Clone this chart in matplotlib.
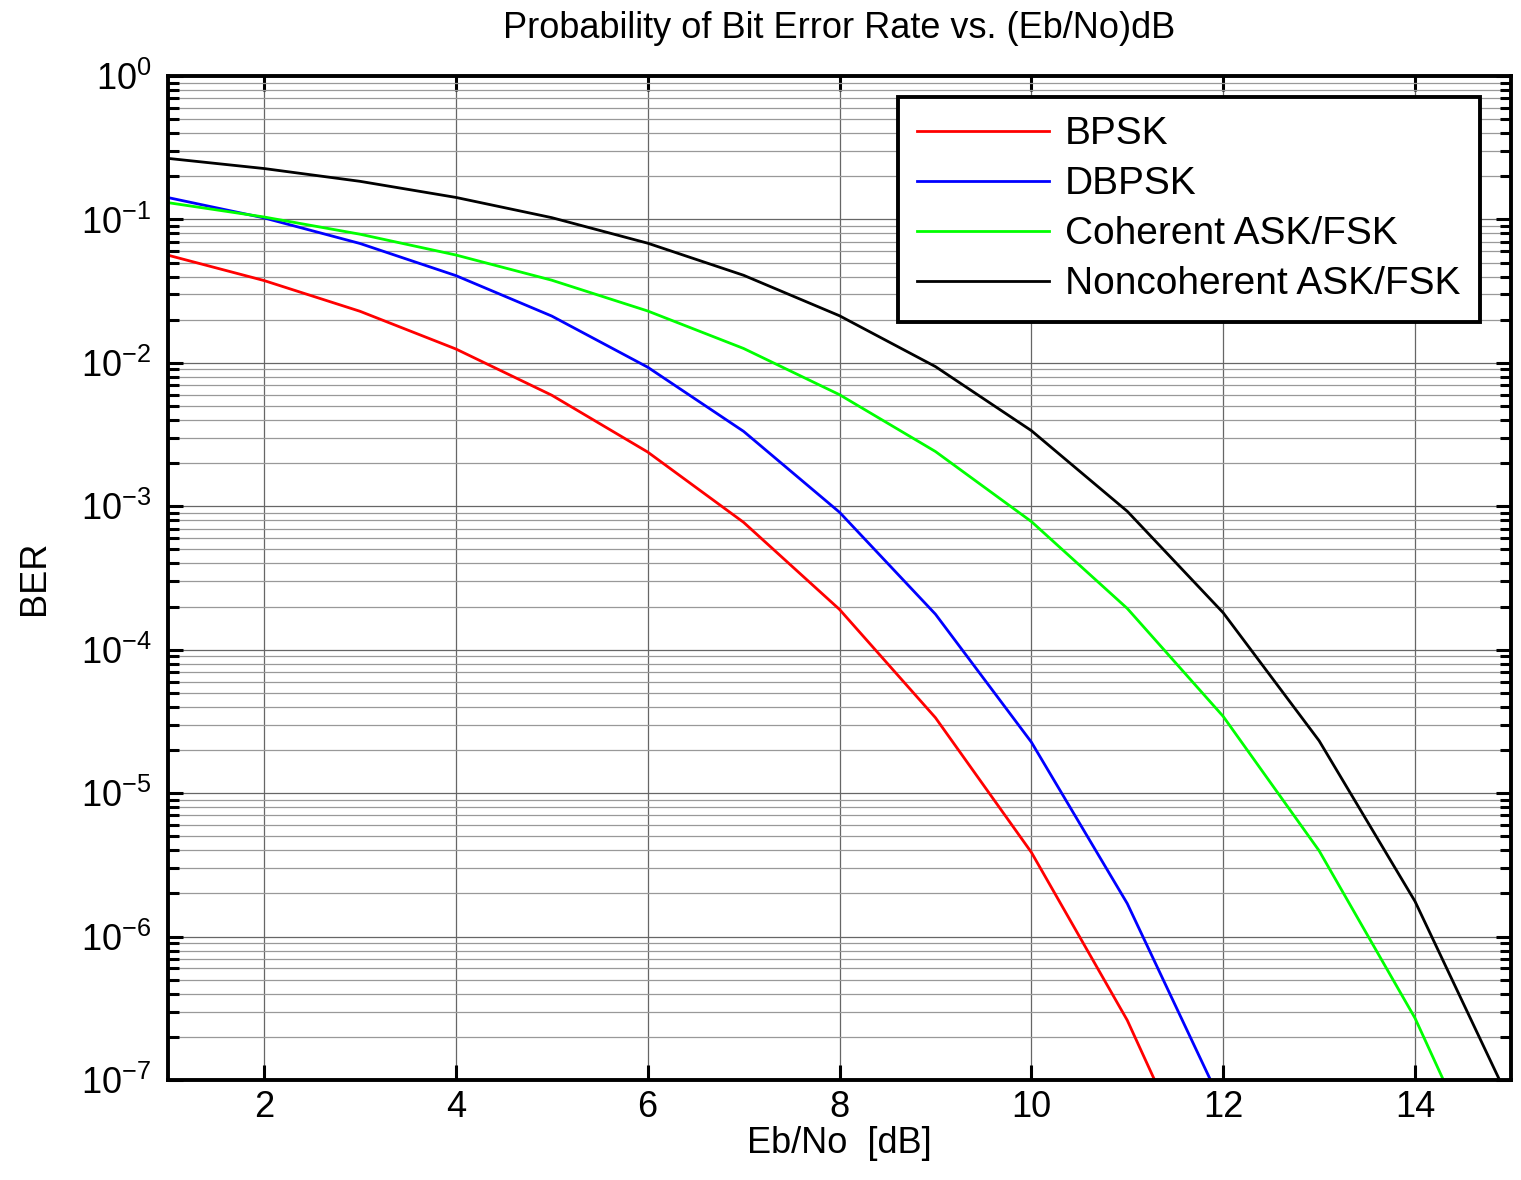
import matplotlib
matplotlib.use('Agg')
import matplotlib.pyplot as plt
from matplotlib.ticker import LogLocator, NullFormatter

plt.rcParams['font.family'] = ['Liberation Sans', 'DejaVu Sans']
plt.rcParams['mathtext.fontset'] = 'custom'
plt.rcParams['mathtext.rm'] = 'Liberation Sans'

# Eb/No in dB and BER
ebno_db = [1, 2, 3, 4, 5, 6, 7, 8, 9, 10, 11, 12, 13, 14, 15]
ber_bpsk = [5.63e-2, 3.75e-2, 2.29e-2, 1.25e-2, 5.95e-3, 2.39e-3, 7.73e-4,
            1.91e-4, 3.36e-5, 3.87e-6, 2.61e-7, 9.01e-9, 1.33e-10, 6.81e-13, 9.2e-16]
ber_dbpsk = [0.142, 0.1025, 0.068, 0.0406, 0.0212, 9.33e-3, 3.33e-3,
             9.09e-4, 1.77e-4, 2.27e-5, 1.70e-6, 6.5e-8, 1.08e-9, 6.1e-12, 9e-15]
ber_coh = [0.1309, 0.104, 0.0789, 0.0565, 0.0377, 0.023, 0.0126,
           6.0e-3, 2.41e-3, 7.83e-4, 1.94e-4, 3.43e-5, 3.97e-6, 2.70e-7, 9.4e-9]
ber_noncoh = [0.2664, 0.2264, 0.1844, 0.1424, 0.1029, 0.0683, 0.0408,
              0.0213, 9.42e-3, 3.37e-3, 9.23e-4, 1.81e-4, 2.32e-5, 1.76e-6, 6.8e-8]

labels = ['BPSK', 'DBPSK', 'Coherent ASK/FSK', 'Noncoherent ASK/FSK']
colors = ['#ff0000', '#0000ff', '#00ff00', '#000000']

fig = plt.figure(figsize=(15.21, 11.8), dpi=100)
ax = fig.add_axes([0.1105, 0.0847, 0.8829, 0.8509])

for ber, lab, c in zip([ber_bpsk, ber_dbpsk, ber_coh, ber_noncoh], labels, colors):
    ax.semilogy(ebno_db, ber, color=c, lw=2.0, label=lab)

ax.set_xlim(1, 15)
ax.set_ylim(1e-7, 1)
ax.set_xticks([2, 4, 6, 8, 10, 12, 14])
ax.yaxis.set_major_locator(LogLocator(base=10, numticks=10))
ax.yaxis.set_minor_locator(LogLocator(base=10, subs=range(2, 10), numticks=100))
ax.yaxis.set_minor_formatter(NullFormatter())

ax.grid(True, which='major', color='0.4', lw=0.9)
ax.grid(True, which='minor', axis='y', color='0.6', lw=0.9)

ax.tick_params(which='both', direction='in', top=True, right=True, width=2.2)
ax.tick_params(which='major', length=11, labelsize=26)
ax.tick_params(axis='x', which='major', pad=7)
ax.tick_params(axis='y', which='major', pad=12)
ax.tick_params(which='minor', length=8)
for s in ax.spines.values():
    s.set_linewidth(2.8)

ax.set_title('Probability of Bit Error Rate vs. (Eb/No)dB', fontsize=26, pad=27)
ax.set_xlabel('Eb/No  [dB]', fontsize=26, labelpad=1)
ax.set_ylabel('BER', fontsize=26, labelpad=21)

leg = ax.legend(loc='upper right', bbox_to_anchor=(0.973, 0.918),
                bbox_transform=fig.transFigure, borderaxespad=0,
                fontsize=28, handlelength=3.4, handletextpad=0.4,
                fancybox=False, framealpha=1, edgecolor='black',
                borderpad=0.5, labelspacing=0.36)
leg.get_frame().set_linewidth(2.8)

fig.savefig('out.png', dpi=100)
